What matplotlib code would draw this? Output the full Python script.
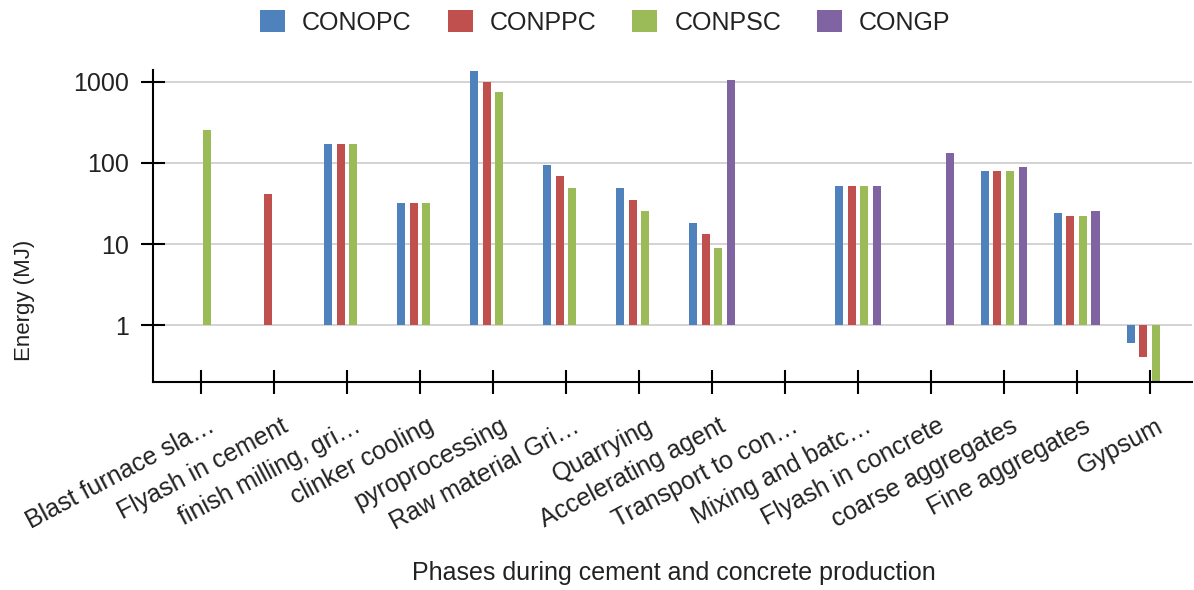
import numpy as np
import matplotlib
matplotlib.use('Agg')
import matplotlib.pyplot as plt
import matplotlib.transforms as mtransforms
from matplotlib.patches import Patch

plt.rcParams['font.family'] = ['Liberation Sans', 'DejaVu Sans']

# data (nan = no bar)
phases = ['Blast furnace sla…', 'Flyash in cement', 'finish milling, gri…',
          'clinker cooling', 'pyroprocessing', 'Raw material Gri…', 'Quarrying',
          'Accelerating agent', 'Transport to con…', 'Mixing and batc…',
          'Flyash in concrete', 'coarse aggregates', 'Fine aggregates', 'Gypsum']
series_names = ['CONOPC', 'CONPPC', 'CONPSC', 'CONGP']
nan = np.nan
conopc = [nan, nan, 170, 32, 1350, 94, 49, 18, nan, 52, nan, 79, 24, 0.6]
conppc = [nan, 41, 170, 32, 1000, 70, 34.5, 13.4, nan, 52, nan, 79, 22.5, 0.41]
conpsc = [255, nan, 170, 32, 750, 49, 25.5, 8.9, nan, 52, nan, 79, 22.5, 0.15]
congp = [nan, nan, nan, nan, nan, nan, nan, 1050, nan, 52, 134, 88, 25.5, nan]
colors = ['#4F81BD', '#C0504D', '#9BBB59', '#8064A2']

fig = plt.figure(figsize=(11.94, 5.90), dpi=100)
ax = fig.add_axes([0.1281, 0.3525, 0.8702, 0.5288])
ax.set_yscale('log')

x = np.arange(len(phases))
slot = 0.172
bw = 0.11
for i, (vals, c) in enumerate(zip([conopc, conppc, conpsc, congp], colors)):
    v = np.array(vals, dtype=float)
    m = ~np.isnan(v)
    ax.bar(x[m] + (i - 1.5) * slot, v[m] - 1, bottom=1, width=bw, color=c, zorder=3)

ax.set_xlim(-0.66, 13.58)
ax.set_ylim(0.2, 1395)
ax.set_yticks([1, 10, 100, 1000])
ax.set_yticklabels(['1', '10', '100', '1000'])
ax.yaxis.set_minor_locator(matplotlib.ticker.NullLocator())
ax.grid(axis='y', color='#cccccc', lw=1.2, zorder=0)

for s in ['top', 'right']:
    ax.spines[s].set_visible(False)
for s in ['left', 'bottom']:
    ax.spines[s].set_linewidth(1.5)
    ax.spines[s].set_zorder(4)

ax.tick_params(axis='both', direction='inout', length=17, width=1.5, colors='black',
               labelcolor='#222222', labelsize=18)
ax.tick_params(axis='y', pad=9)
ax.tick_params(axis='x', pad=22)

ax.set_xticks(x)
ax.set_xticklabels(phases, rotation=28, ha='right', va='center', rotation_mode='anchor')
shift = mtransforms.ScaledTranslation(0.12, 0, fig.dpi_scale_trans)
for lab in ax.get_xticklabels():
    lab.set_transform(lab.get_transform() + shift)

ax.set_ylabel('Energy (MJ)', fontsize=16, color='#222222')
ax.yaxis.set_label_coords(-0.114, 0.263)
ax.set_xlabel('Phases during cement and concrete production', fontsize=18, color='#222222')
ax.xaxis.set_label_coords(0.501, -0.575)
ax.xaxis.label.set_va('top')

handles = [Patch(facecolor=c, edgecolor='none') for c in colors]
fig.legend(handles, series_names, loc='center', bbox_to_anchor=(0.507, 0.962), ncol=4,
           frameon=False, fontsize=18, handlelength=1.0, handleheight=1.0,
           handletextpad=0.68, columnspacing=1.44, labelcolor='#222222')

fig.savefig('out.png', dpi=100)
